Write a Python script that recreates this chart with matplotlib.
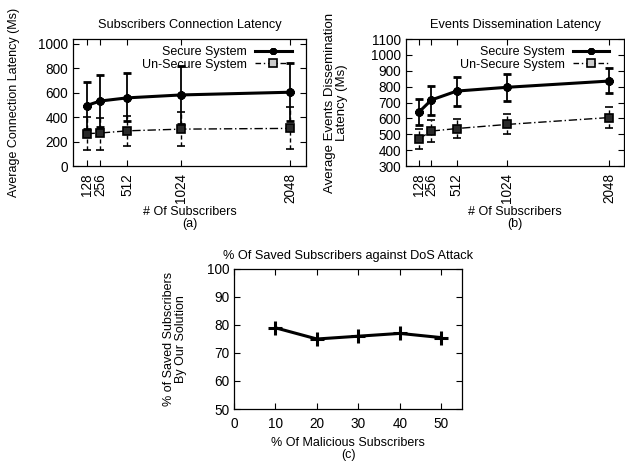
import numpy as np
import matplotlib
matplotlib.use('Agg')
import matplotlib.pyplot as plt
from matplotlib.lines import Line2D

plt.rcParams['font.family'] = ['Liberation Sans', 'DejaVu Sans']
plt.rcParams['font.size'] = 9

# data
subs = [128, 256, 512, 1024, 2048]

conn_secure = [495, 532, 558, 582, 604]
conn_secure_lo = [300, 320, 370, 345, 370]
conn_secure_hi = [690, 748, 765, 815, 842]
conn_unsecure = [265, 270, 288, 302, 308]
conn_unsecure_lo = [132, 135, 165, 163, 138]
conn_unsecure_hi = [398, 395, 413, 440, 480]

ev_secure = [638, 716, 772, 796, 835]
ev_secure_lo = [558, 621, 680, 711, 758]
ev_secure_hi = [720, 806, 862, 880, 917]
ev_unsecure = [470, 520, 536, 562, 605]
ev_unsecure_lo = [407, 453, 476, 502, 540]
ev_unsecure_hi = [533, 592, 596, 628, 670]

malicious = [10, 20, 30, 40, 50]
saved = [79, 75, 76, 77, 75.5]

TICK_FS = 9.8
TITLE_FS = 9.2


def style_axes(ax, xpad=5):
    ax.tick_params(direction='in', length=4, width=0.8, top=True, right=True,
                   labelsize=TICK_FS)
    ax.tick_params(axis='y', pad=3.5)
    ax.tick_params(axis='x', pad=xpad)
    for s in ax.spines.values():
        s.set_linewidth(0.9)


def latency_panel(ax, sec, sec_lo, sec_hi, uns, uns_lo, uns_hi):
    sec = np.array(sec)
    uns = np.array(uns)
    ax.errorbar(subs, sec, yerr=[sec - np.array(sec_lo), np.array(sec_hi) - sec],
                color='black', lw=2.2, elinewidth=1.3, capsize=3, capthick=1.3,
                marker=(8, 2, 0), ms=6, mew=2)
    e2 = ax.errorbar(subs, uns, yerr=[uns - np.array(uns_lo), np.array(uns_hi) - uns],
                     color='black', lw=1, ls=(0, (6, 2, 1, 2)), elinewidth=1, capsize=3,
                     capthick=1, marker='s', ms=6, mfc='#2a2a2a', mec='black', mew=1.2)
    e2[2][0].set_linestyle((0, (3, 2)))
    ax.set_xlim(0, 2200)
    ax.set_xticks(subs)
    ax.set_xticklabels([str(s) for s in subs], rotation=90)
    h1 = Line2D([], [], color='black', lw=2.2, marker=(8, 2, 0), ms=5, mew=2)
    h2 = Line2D([], [], color='black', lw=1, ls=(0, (4, 2, 1, 2)), marker='s', ms=6,
                mfc='#cccccc', mec='black', mew=1.2)
    return h1, h2


fig = plt.figure(figsize=(6.25, 4.61), dpi=100)

# (a)
ax1 = fig.add_axes([73 / 625, 1 - 166 / 461, 233 / 625, 127 / 461])
h1, h2 = latency_panel(ax1, conn_secure, conn_secure_lo, conn_secure_hi,
                       conn_unsecure, conn_unsecure_lo, conn_unsecure_hi)
ax1.set_ylim(0, 1040)
ax1.set_yticks(range(0, 1001, 200))
ax1.set_title('Subscribers Connection Latency', pad=8.1, fontsize=TITLE_FS)
ax1.set_ylabel('Average Connection Latency (Ms)')
ax1.yaxis.set_label_coords(-0.227, 0.5)
ax1.set_xlabel('# Of Subscribers\n(a)', linespacing=0.95)
ax1.xaxis.set_label_coords(0.5, -0.316)
ax1.legend([h1, h2], ['Secure System', 'Un-Secure System'], loc='upper right',
           bbox_to_anchor=(1 - 14 / 233, 0.945), frameon=False, markerfirst=False,
           borderpad=0, borderaxespad=0, handlelength=3, handletextpad=0.6,
           labelspacing=0.05, fontsize=9)
style_axes(ax1)

# (b)
ax2 = fig.add_axes([406 / 625, 1 - 166 / 461, 218 / 625, 127 / 461])
h1, h2 = latency_panel(ax2, ev_secure, ev_secure_lo, ev_secure_hi,
                       ev_unsecure, ev_unsecure_lo, ev_unsecure_hi)
ax2.set_ylim(300, 1100)
ax2.set_yticks(range(300, 1101, 100))
ax2.set_title('Events Dissemination Latency', pad=8.1, fontsize=TITLE_FS)
ax2.set_ylabel('Average Events Dissemination\nLatency (Ms)', linespacing=0.95,
               fontsize=9.5)
ax2.yaxis.set_label_coords(-0.266, 0.5)
ax2.set_xlabel('# Of Subscribers\n(b)', linespacing=0.95)
ax2.xaxis.set_label_coords(0.5, -0.316)
ax2.legend([h1, h2], ['Secure System', 'Un-Secure System'], loc='upper right',
           bbox_to_anchor=(1 - 15 / 218, 0.945), frameon=False, markerfirst=False,
           borderpad=0, borderaxespad=0, handlelength=2.9, handletextpad=0.6,
           labelspacing=0.05, fontsize=9)
style_axes(ax2)

# (c)
ax3 = fig.add_axes([234 / 625, 1 - 409 / 461, 228 / 625, 140 / 461])
ax3.plot(malicious, saved, color='black', lw=2.2, marker='+', ms=10, mew=2.2)
ax3.set_xlim(0, 55)
ax3.set_ylim(50, 100)
ax3.set_xticks(range(0, 51, 10))
ax3.set_yticks(range(50, 101, 10))
ax3.set_title('% Of Saved Subscribers against DoS Attack', pad=7.2, fontsize=TITLE_FS)
ax3.set_ylabel('% of Saved Subscribers\nBy Our Solution', linespacing=0.95)
ax3.yaxis.set_label_coords(-0.206, 0.5)
ax3.set_xlabel('% Of Malicious Subscribers\n(c)', linespacing=0.95)
ax3.xaxis.set_label_coords(0.5, -0.2)
style_axes(ax3, xpad=6)

fig.savefig('out.png', dpi=100)
